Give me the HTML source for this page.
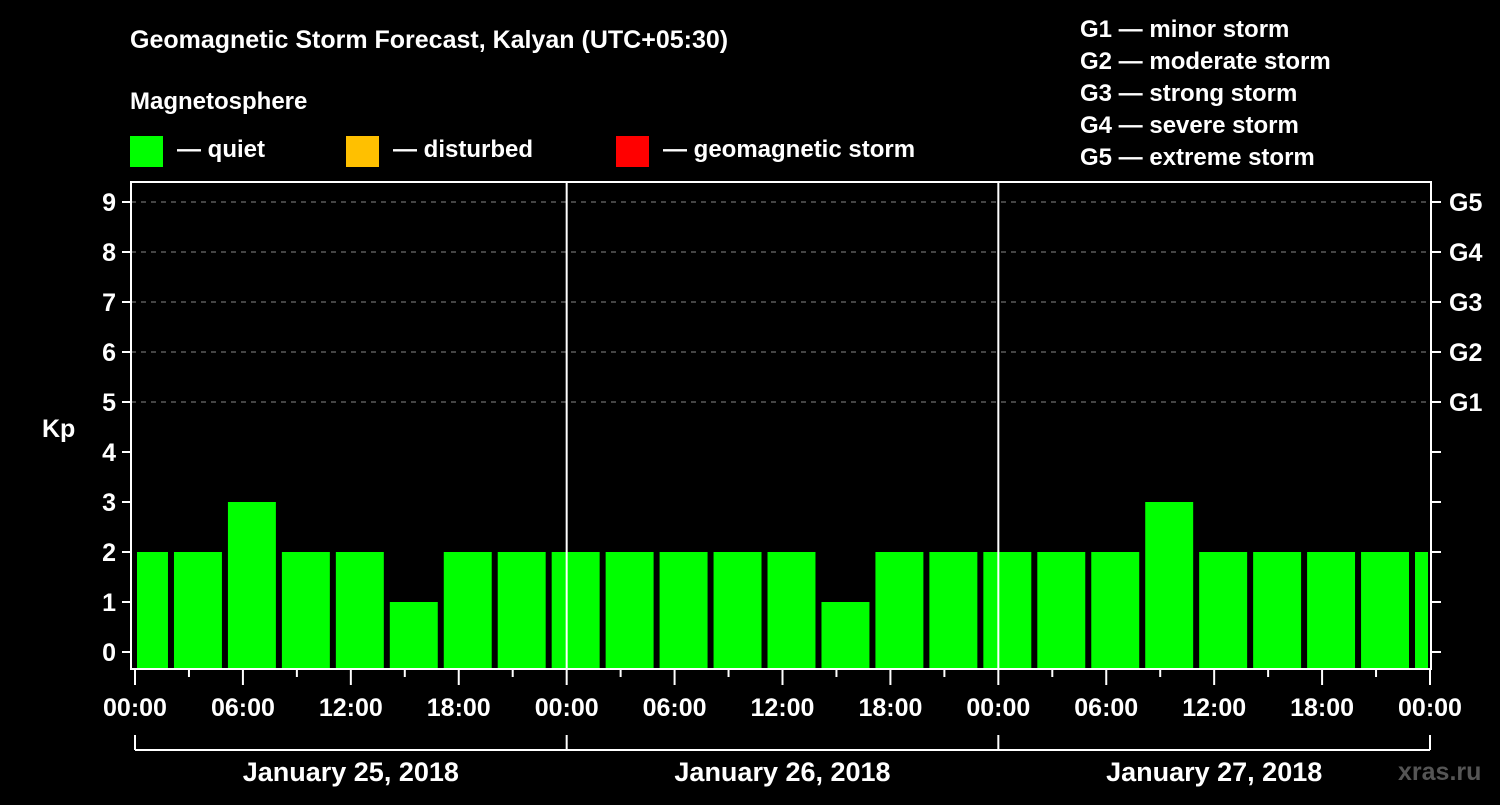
<!DOCTYPE html>
<html><head><meta charset="utf-8"><style>
body{margin:0;background:#000;width:1500px;height:800px;overflow:hidden;font-family:"Liberation Sans",sans-serif}
svg text{font-family:"Liberation Sans",sans-serif;font-weight:bold;fill:#fff}
</style></head><body>
<svg id="c" width="1500" height="800">
<text x="130" y="48" font-size="25">Geomagnetic Storm Forecast, Kalyan (UTC+05:30)</text>
<text x="130" y="109" font-size="24">Magnetosphere</text>
<rect x="130" y="136" width="33" height="31" fill="#00ff00"/>
<text x="177" y="157" font-size="24">— quiet</text>
<rect x="346" y="136" width="33" height="31" fill="#ffc000"/>
<text x="393" y="157" font-size="24">— disturbed</text>
<rect x="616" y="136" width="33" height="31" fill="#ff0000"/>
<text x="663" y="157" font-size="24">— geomagnetic storm</text>
<g font-size="24">
<text x="1080" y="37">G1 — minor storm</text>
<text x="1080" y="69">G2 — moderate storm</text>
<text x="1080" y="101">G3 — strong storm</text>
<text x="1080" y="133">G4 — severe storm</text>
<text x="1080" y="165">G5 — extreme storm</text>
</g>
<text x="42" y="437" font-size="25">Kp</text>
<text x="1398" y="780" font-size="25" fill="#555" style="fill:#555">xras.ru</text>
<g id="plot"></g>
</svg>
<script>
const kpValues=[2,2,3,2,2,1,2,2,2,2,2,2,2,1,2,2,2,2,2,3,2,2,2,2,2];
const yTicks=[0,1,2,3,4,5,6,7,8,9];
const gLabels=["G1","G2","G3","G4","G5"];
const hourLabels=["00:00","06:00","12:00","18:00","00:00","06:00","12:00","18:00","00:00","06:00","12:00","18:00","00:00"];
const dayLabels=["January 25, 2018","January 26, 2018","January 27, 2018"];
const NS="http://www.w3.org/2000/svg";
const g=document.getElementById('plot');
const X0=135,X1=1430,TOP=182,BOT=669;
const X=t=>X0+t*(X1-X0)/72;
const Y=v=>652-v*50;
function mk(tag,attrs,parent){const e=document.createElementNS(NS,tag);for(const k in attrs)e.setAttribute(k,attrs[k]);(parent||g).appendChild(e);return e;}
// grid
for(let v=5;v<=9;v++){const l=mk('line',{x1:131,x2:1431,y1:Y(v),y2:Y(v),stroke:'#888','stroke-dasharray':'5,5','stroke-width':1});

}
// bars
kpValues.forEach((v,k)=>{const t=-1+3*k;let a=Math.max(X(t)+3,137),b=Math.min(X(t+3)-3,1428);
const r=mk('rect',{x:a,y:Y(v),width:b-a,height:BOT-1-Y(v),fill:'#00ff00'});

});
// day separators
[1,2].forEach(d=>{const l=mk('line',{x1:X(24*d),x2:X(24*d),y1:TOP,y2:BOT,stroke:'#fff','stroke-width':2});

});
// frame
const f=mk('rect',{x:131,y:TOP,width:1300,height:BOT-TOP,fill:'none',stroke:'#fff','stroke-width':2});


// y ticks
yTicks.forEach(v=>{mk('line',{x1:122,x2:131,y1:Y(v),y2:Y(v),stroke:'#fff','stroke-width':2});
mk('line',{x1:1431,x2:1441,y1:Y(v),y2:Y(v),stroke:'#fff','stroke-width':2});
const t=mk('text',{x:116,y:Y(v)+9,'font-size':25,'text-anchor':'end'});t.textContent=v;

});
gLabels.forEach((s,i)=>{const t=mk('text',{x:1449,y:Y(5+i)+9,'font-size':25});t.textContent=s;

});
// x ticks
for(let h=0;h<=72;h+=3){mk('line',{x1:X(h),x2:X(h),y1:BOT,y2:BOT+(h%6?8:16),stroke:'#fff','stroke-width':2});}
hourLabels.forEach((s,i)=>{const t=mk('text',{x:X(i*6),y:716,'font-size':25,'text-anchor':'middle'});t.textContent=s;

});
// bracket
mk('line',{x1:X(0),x2:X(72),y1:750,y2:750,stroke:'#fff','stroke-width':2});
[0,24,48,72].forEach(h=>mk('line',{x1:X(h),x2:X(h),y1:735,y2:750,stroke:'#fff','stroke-width':2}));
dayLabels.forEach((s,i)=>{const t=mk('text',{x:X(i*24+12),y:781,'font-size':27,'text-anchor':'middle'});t.textContent=s;

});
</script>
</body></html>
